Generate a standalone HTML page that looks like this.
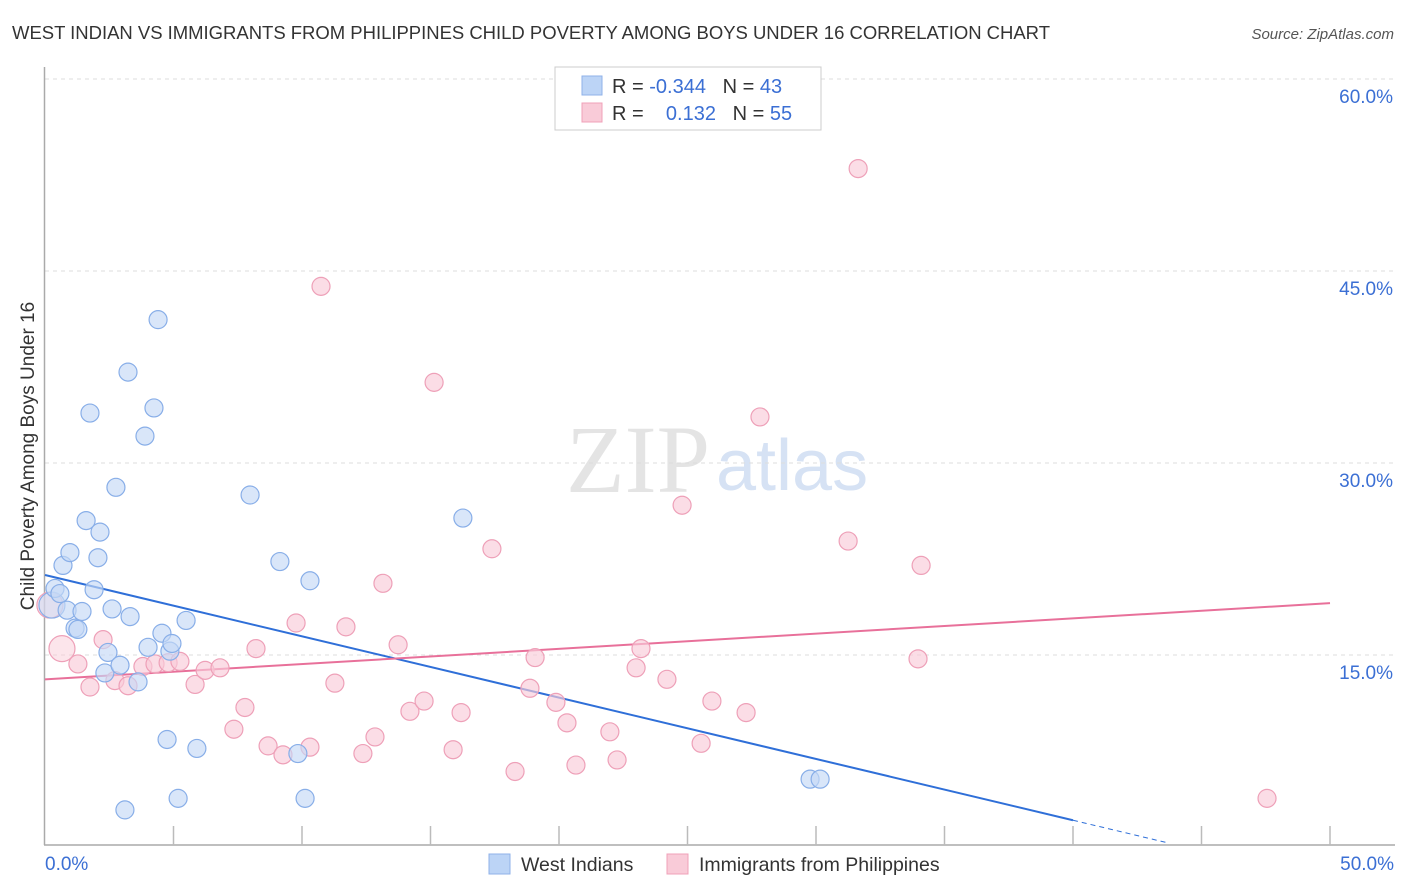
<!DOCTYPE html>
<html><head><meta charset="utf-8"><style>
body{margin:0;background:#fff;font-family:"Liberation Sans",sans-serif;}
svg{display:block}
</style></head><body>
<svg id="chart" width="1406" height="892">
<text x="12" y="39" font-size="18.5" fill="#333" textLength="1038">WEST INDIAN VS IMMIGRANTS FROM PHILIPPINES CHILD POVERTY AMONG BOYS UNDER 16 CORRELATION CHART</text>
<text x="1394" y="39" font-size="15" font-style="italic" fill="#555" text-anchor="end">Source: ZipAtlas.com</text>
<text x="710" y="492" font-size="96" font-family="Liberation Serif,serif" fill="#e4e4e4" text-anchor="end">ZIP</text>
<text x="716" y="490" font-size="72" fill="#d6e2f4">atlas</text>
<g id="grid"></g><g id="axes"></g><g id="lines"></g><g id="pts"></g>
<g>
<rect x="555" y="67" width="266" height="63" fill="#fff" stroke="#ccc"/>
<rect x="582" y="76" width="20" height="19" fill="#bcd4f6" stroke="#8fb2e8"/>
<text x="612" y="93" font-size="20" fill="#333">R = <tspan fill="#3b6fd4">-0.344</tspan>&#160;&#160;&#160;N = <tspan fill="#3b6fd4">43</tspan></text>
<rect x="582" y="103" width="20" height="19" fill="#f9cbd8" stroke="#f0a0b8"/>
<text x="612" y="120" font-size="20" fill="#333">R = &#160;&#160;&#160;<tspan fill="#3b6fd4">0.132</tspan>&#160;&#160;&#160;N = <tspan fill="#3b6fd4">55</tspan></text>
</g>
<g>
<rect x="489" y="854" width="21" height="20" fill="#bcd4f6" stroke="#8fb2e8"/>
<text x="521" y="871" font-size="19.5" fill="#333">West Indians</text>
<rect x="667" y="854" width="21" height="20" fill="#f9cbd8" stroke="#f0a0b8"/>
<text x="699" y="871" font-size="19.5" fill="#333">Immigrants from Philippines</text>
</g>
<text transform="translate(34,456) rotate(-90)" font-size="19" fill="#333" text-anchor="middle">Child Poverty Among Boys Under 16</text>
<text x="45" y="870" font-size="19" fill="#3b6fd4">0.0%</text>
<text x="1394" y="870" font-size="19" fill="#3b6fd4" text-anchor="end">50.0%</text>
</svg>
<script>
const yTicks=[15,30,45,60];
const yTickLabels=["15.0%","30.0%","45.0%","60.0%"];
const blueX=[0.27,0.39,0.58,0.70,0.86,0.97,1.17,1.28,1.44,1.60,1.75,1.91,2.06,2.14,2.45,2.33,2.61,2.76,2.92,3.11,3.23,3.31,3.62,3.89,4.01,4.24,4.40,4.55,4.75,4.86,4.94,5.18,5.49,5.91,7.98,9.14,9.84,10.12,10.31,16.26,29.77,30.16];
const blueY=[18.9,20.2,19.8,22.0,18.5,23.0,17.1,17.0,18.4,25.5,33.9,20.1,22.6,24.6,15.2,13.6,18.6,28.1,14.2,2.9,37.1,18.0,12.9,32.1,15.6,34.3,41.2,16.7,8.4,15.3,15.9,3.8,17.7,7.7,27.5,22.3,7.3,3.8,20.8,25.7,5.3,5.3];
const pinkX=[0.19,0.66,1.28,1.75,2.26,2.72,3.23,3.81,4.28,4.79,5.25,5.84,6.23,6.81,7.35,7.78,8.21,8.68,9.26,9.77,10.31,10.74,11.28,11.71,12.37,12.84,13.15,13.74,14.20,14.75,15.14,15.88,16.19,17.39,18.29,18.87,19.07,19.88,20.31,20.66,21.98,22.26,23.00,23.19,24.20,24.79,25.53,25.95,27.28,27.82,31.25,31.64,33.97,34.09,47.55];
const pinkY=[18.9,15.5,14.3,12.5,16.2,13.0,12.6,14.1,14.3,14.4,14.5,12.7,13.8,14.0,9.2,10.9,15.5,7.9,7.2,17.5,7.8,43.8,12.8,17.2,7.3,8.6,20.6,15.8,10.6,11.4,36.3,7.6,10.5,23.3,5.9,12.4,14.8,11.3,9.7,6.4,9.0,6.8,14.0,15.5,13.1,26.7,8.1,11.4,10.5,33.6,23.9,53.0,14.7,22.0,3.8];
const blueBig=[0];const pinkBig=[0,1];
const blueTrend=[21.25,-0.479];const pinkTrend=[13.1,0.119];
const sx=v=>45+v*25.7, sy=v=>847-v*12.8;
const NS="http://www.w3.org/2000/svg";
function mk(p,t,a){const e=document.createElementNS(NS,t);for(const k in a)e.setAttribute(k,a[k]);document.getElementById(p).appendChild(e);return e;}
yTicks.forEach((t,i)=>{
 const l=mk('grid','line',{x1:45,x2:1395,y1:sy(t),y2:sy(t),stroke:'#ddd','stroke-dasharray':'4,4'});
 
 
 const tx=mk('grid','text',{x:1393,y:sy(t)+24,'font-size':19,fill:'#3b6fd4','text-anchor':'end'});
 tx.textContent=yTickLabels[i];
 
 
});
const ya=mk('axes','line',{x1:44.5,x2:44.5,y1:67,y2:845,stroke:'#aaa','stroke-width':1.5});


const xa=mk('axes','line',{x1:44,x2:1395,y1:845,y2:845,stroke:'#aaa','stroke-width':1.5});


for(let i=1;i<=10;i++){const t=mk('axes','line',{x1:sx(i*5),x2:sx(i*5),y1:826,y2:845,stroke:'#bbb','stroke-width':1.5});
 
 }
function pts(X,Y,big,fill,stroke,name){X.forEach((x,i)=>{const c=mk('pts','circle',{cx:sx(x),cy:sy(Y[i]),r:big.includes(i)?13:9,fill:fill,stroke:stroke,'stroke-width':1.2,'fill-opacity':big.includes(i)?0.5:0.65});
 
 });}
pts(pinkX,pinkY,pinkBig,'#f9cbd8','#eea0b8','point-philippines');
pts(blueX,blueY,blueBig,'#c4d9f6','#88aee8','point-west-indian');
const bl=mk('lines','line',{x1:sx(0),y1:sy(blueTrend[0]),x2:sx(40),y2:sy(blueTrend[0]+40*blueTrend[1]),stroke:'#2f6fd8','stroke-width':2});


const bd=mk('lines','line',{x1:sx(40),y1:sy(blueTrend[0]+40*blueTrend[1]),x2:sx(43.6),y2:sy(blueTrend[0]+43.6*blueTrend[1]),stroke:'#2f6fd8','stroke-width':1,'stroke-dasharray':'5,4'});


const pl=mk('lines','line',{x1:sx(0),y1:sy(pinkTrend[0]),x2:sx(50),y2:sy(pinkTrend[0]+50*pinkTrend[1]),stroke:'#e8709a','stroke-width':2});


</script>
</body></html>
